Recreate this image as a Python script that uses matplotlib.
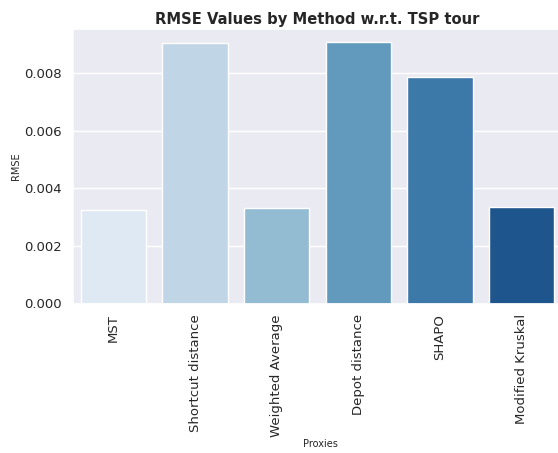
import matplotlib
matplotlib.use("Agg")
import matplotlib.pyplot as plt
import seaborn as sns
import pandas as pd

methods = ["MST", "Shortcut distance", "Weighted Average", "Depot distance", "SHAPO", "Modified Kruskal"]
rmse = [0.00324, 0.00903, 0.00331, 0.00907, 0.00787, 0.00334]
yticks = [0.000, 0.002, 0.004, 0.006, 0.008]
ytick_labels = ["0.000", "0.002", "0.004", "0.006", "0.008"]

sns.set_theme(style="darkgrid")
plt.rcParams['font.family'] = ['DejaVu Sans']

df = pd.DataFrame({"Proxies": methods, "RMSE": rmse})

W, H = 558, 453
fig = plt.figure(figsize=(W / 100, H / 100), dpi=100)
ax = fig.add_axes([72.5 / W, 1 - 303.5 / H, (562.6 - 72.5) / W, (303.5 - 29) / H])

sns.barplot(data=df, x="Proxies", y="RMSE", hue="Proxies", palette="Blues",
            legend=False, ax=ax)

ax.set_title("RMSE Values by Method w.r.t. TSP tour", fontsize=10.6,
             fontweight="bold", pad=3.6)
ax.set_xlabel("Proxies", fontsize=7)
ax.set_ylabel("RMSE", fontsize=7)
ax.xaxis.set_label_coords(0.505, -0.492)
ax.yaxis.set_label_coords(-0.105, 0.5)
ax.tick_params(axis="x", labelrotation=90, labelsize=9.5, pad=1.8)
ax.tick_params(axis="y", labelsize=9.5, pad=1.6)
ax.set_yticks(yticks)
ax.set_yticklabels(ytick_labels)
ax.set_ylim(0, 0.00953)

fig.savefig("out.png", dpi=100)
